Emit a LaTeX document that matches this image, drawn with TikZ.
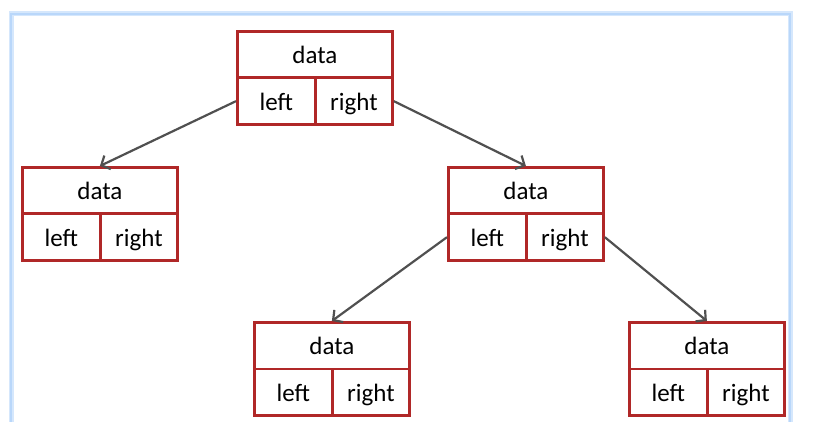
\documentclass[tikz,border=0pt]{standalone}
\usepackage{fontspec}
\setmainfont{Carlito}
\usetikzlibrary{arrows.meta}
\definecolor{boxred}{RGB}{176,40,40}
\definecolor{arrgray}{RGB}{80,80,80}
\definecolor{frameblue}{RGB}{185,215,250}
\newcommand\treenode[3]{%
  \node[cell, minimum width=155pt] (#1d) at (#2,#3) {data};
  \node[cell, minimum width=78pt] (#1l) at (#2,#3+46.5) {left};
  \node[cell, minimum width=77pt] (#1r) at (#2+78,#3+46.5) {right};
}
\begin{document}
\begin{tikzpicture}[x=1pt,y=-1pt,
  cell/.style={draw=boxred, line width=2.8pt, inner sep=0pt, anchor=north west,
    minimum height=46.5pt, text height=18pt, text depth=0pt,
    font=\fontsize{25}{28}\selectfont, text=black},
  link/.style={draw=arrgray, line width=2.2pt, -{Straight Barb[length=7pt,width=15pt]}}]
\useasboundingbox (0,0) rectangle (833,422);
\begin{scope}
  \clip (0,0) rectangle (833,422);
  \draw[frameblue!60, line width=5pt] (11,14) rectangle (790,470);
  \draw[frameblue, line width=2pt] (11,14) rectangle (790,470);
\end{scope}
\treenode{root}{236}{30}
\treenode{L}{21}{166}
\treenode{R}{447}{166}
\treenode{RL}{253}{321}
\treenode{RR}{628}{321}
\draw[link] (rootl.west) -- (Ld.north);
\draw[link] (rootr.east) -- (Rd.north);
\draw[link] (Rl.west) -- (RLd.north);
\draw[link] (Rr.east) -- (RRd.north);
\end{tikzpicture}
\end{document}
